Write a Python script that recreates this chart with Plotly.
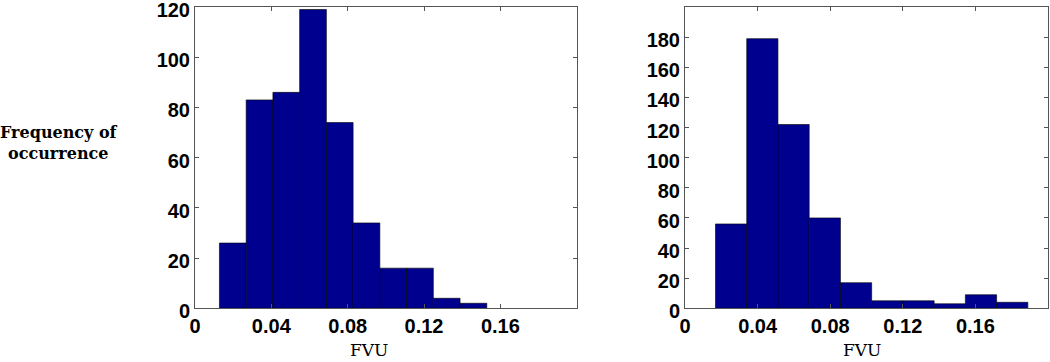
import numpy as np
import plotly.graph_objects as go

# ---- data ----
left_counts = [26, 83, 86, 119, 74, 34, 16, 16, 4, 2]
left_bin_range = [0.0128, 0.1529]
right_counts = [56, 179, 122, 60, 17, 5, 5, 3, 9, 4]
right_bin_range = [0.0168, 0.1889]
x_ticks = [0, 0.04, 0.08, 0.12, 0.16]
x_tick_labels = ["0", "0.04", "0.08", "0.12", "0.16"]
left_y_ticks = [0, 20, 40, 60, 80, 100, 120]
right_y_ticks = [0, 20, 40, 60, 80, 100, 120, 140, 160, 180]
x_title = "FVU"
y_title = "Frequency of<br>occurrence"

W, H = 1050, 362
BAR_COLOR = "#00008F"
AX_COLOR = "#555555"


def bins(rng, n):
    edges = np.linspace(rng[0], rng[1], n + 1)
    return (edges[:-1] + edges[1:]) / 2, edges[1] - edges[0]


fig = go.Figure()
lc, lw = bins(left_bin_range, len(left_counts))
rc, rw = bins(right_bin_range, len(right_counts))
fig.add_trace(go.Bar(x=lc, y=left_counts, width=lw, xaxis="x", yaxis="y",
                     marker=dict(color=BAR_COLOR, line=dict(color="black", width=0.6))))
fig.add_trace(go.Bar(x=rc, y=right_counts, width=rw, xaxis="x2", yaxis="y2",
                     marker=dict(color=BAR_COLOR, line=dict(color="black", width=0.6))))

tickfont = dict(family="Liberation Sans", size=20, color="black", weight="bold")
common_x = dict(range=[0, 0.2], tickvals=x_ticks, ticktext=x_tick_labels,
                ticks="inside", ticklen=4, tickcolor=AX_COLOR, showline=True,
                linecolor=AX_COLOR, linewidth=1, mirror="ticks", showgrid=False,
                zeroline=False, tickfont=tickfont, fixedrange=True,
                automargin=False, ticklabeloverflow="allow")
common_y = dict(ticks="inside", ticklen=4, tickcolor=AX_COLOR, showline=True,
                linecolor=AX_COLOR, linewidth=1, mirror="ticks", showgrid=False,
                zeroline=False, tickfont=tickfont, fixedrange=True,
                automargin=False, ticklabeloverflow="allow", ticklabelshift=3)

y0 = (H - 308.3) / H
y1 = (H - 7) / H
fig.update_layout(
    width=W, height=H, margin=dict(l=0, r=0, t=0, b=0),
    paper_bgcolor="white", plot_bgcolor="white", showlegend=False,
    xaxis=dict(domain=[195 / W, 576.7 / W], anchor="y", **common_x),
    yaxis=dict(domain=[y0, y1], anchor="x", range=[0, 120], tickvals=left_y_ticks, **common_y),
    xaxis2=dict(domain=[685 / W, 1048 / W], anchor="y2", **common_x),
    yaxis2=dict(domain=[y0, y1], anchor="x2", range=[0, 200], tickvals=right_y_ticks, **common_y),
    annotations=[
        dict(text=y_title, x=59 / W, y=(H - 143) / H, xref="paper", yref="paper",
             showarrow=False, xanchor="center", yanchor="middle",
             font=dict(family="DejaVu Serif", size=16, color="black", weight="bold")),
        dict(text=x_title, x=369 / W, y=0, xref="paper", yref="paper",
             showarrow=False, xanchor="center", yanchor="bottom",
             font=dict(family="DejaVu Serif", size=17, color="black")),
        dict(text=x_title, x=861.5 / W, y=0, xref="paper", yref="paper",
             showarrow=False, xanchor="center", yanchor="bottom",
             font=dict(family="DejaVu Serif", size=17, color="black")),
    ],
)

fig.write_html("out.html", config={"displayModeBar": False},
               post_script="document.body.style.margin='0';document.body.style.overflow='hidden';")
